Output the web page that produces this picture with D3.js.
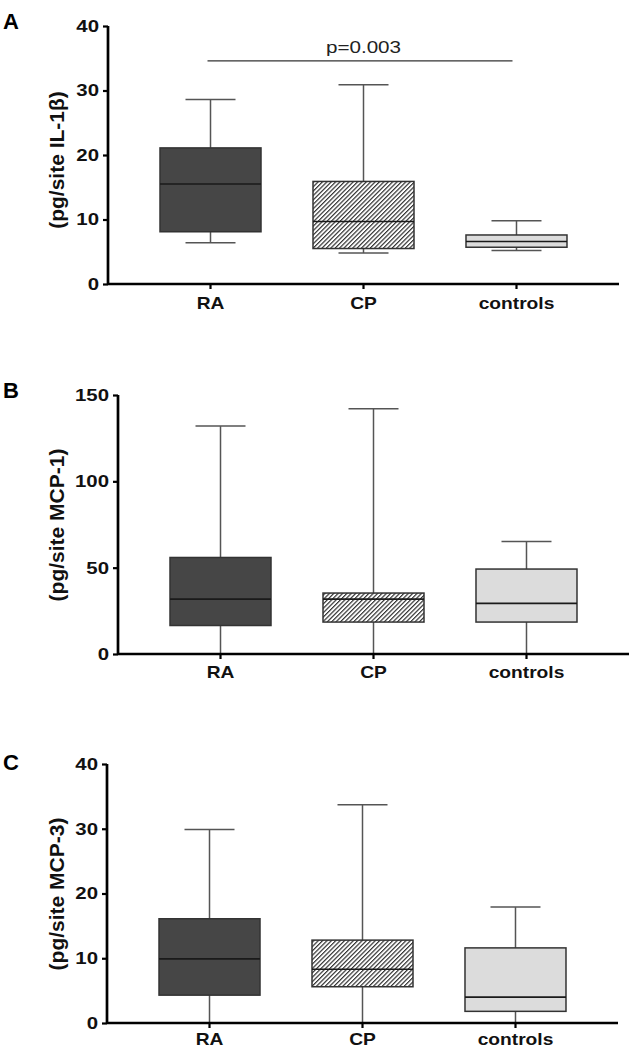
<!DOCTYPE html>
<html>
<head>
    <meta charset="utf-8">
    <title>IL-1b, MCP-1, MCP-3 box plots</title>
    <script src="https://d3js.org/d3.v7.min.js"></script>
    <style>
        body { margin: 0; background: #ffffff; }
        svg { display: block; font-family: "Liberation Sans", Arial, sans-serif; }
        .domain { stroke: #000; stroke-width: 2.7px; }
        .tick line { stroke: #000; stroke-width: 2.2px; }
    </style>
</head>
<body>
<div id="chart"></div>
<script>
    // data: [min, q1, median, q3, max] per group
    const groups = ["RA", "CP", "controls"];
    const il1bStats = [
        [6.4, 8.1, 15.5, 21.1, 28.6],
        [4.8, 5.5, 9.7, 15.9, 30.9],
        [5.2, 5.7, 6.6, 7.6, 9.8]
    ];
    const mcp1Stats = [
        [0, 16.5, 31.8, 55.9, 132],
        [0, 18.5, 31.8, 35.3, 142],
        [0, 18.5, 29.3, 49.2, 65.1]
    ];
    const mcp3Stats = [
        [0, 4.3, 9.9, 16.1, 29.9],
        [0, 5.6, 8.3, 12.8, 33.7],
        [0, 1.8, 4.0, 11.6, 17.9]
    ];
    const il1bTicks = [0, 10, 20, 30, 40];
    const mcp1Ticks = [0, 50, 100, 150];
    const mcp3Ticks = [0, 10, 20, 30, 40];
    const pValueA = "p=0.003";

    const fills = ["#464646", "url(#hatch)", "#dcdcdc"];

    const svg = d3.select("#chart").append("svg")
        .attr("width", 633)
        .attr("height", 1050);

    const pat = svg.append("defs").append("pattern")
        .attr("id", "hatch")
        .attr("patternUnits", "userSpaceOnUse")
        .attr("width", 3.1)
        .attr("height", 3.1)
        .attr("patternTransform", "rotate(45)");
    pat.append("rect").attr("width", 3.1).attr("height", 3.1).attr("fill", "#fff");
    pat.append("line")
        .attr("x1", 0.6).attr("y1", 0).attr("x2", 0.6).attr("y2", 3.1)
        .attr("stroke", "#333").attr("stroke-width", 1.2);

    function drawPanel(opt) {
        const w = 511, h = opt.zeroY - opt.topY;
        const g = svg.append("g")
            .attr("transform", "translate(" + opt.axisX + "," + opt.topY + ")");

        const x = d3.scalePoint().domain(groups).range([0, w]).padding(0.67);
        const y = d3.scaleLinear().domain([0, opt.ticks[opt.ticks.length - 1]]).range([h, 0]);

        const boxW = 101, capW = 50;

        const box = g.selectAll(".box")
            .data(opt.stats)
            .enter().append("g")
            .attr("transform", (d, i) => "translate(" + x(groups[i]) + ",0)");

        // whiskers
        box.append("line")
            .attr("x1", 0).attr("x2", 0)
            .attr("y1", d => y(d[0])).attr("y2", d => y(d[1]))
            .attr("stroke", "#555").attr("stroke-width", 1.5);
        box.append("line")
            .attr("x1", 0).attr("x2", 0)
            .attr("y1", d => y(d[3])).attr("y2", d => y(d[4]))
            .attr("stroke", "#555").attr("stroke-width", 1.5);
        box.append("line")
            .attr("x1", -capW / 2).attr("x2", capW / 2)
            .attr("y1", d => y(d[4])).attr("y2", d => y(d[4]))
            .attr("stroke", "#555").attr("stroke-width", 1.5);
        box.append("line")
            .attr("x1", -capW / 2).attr("x2", capW / 2)
            .attr("y1", d => y(d[0])).attr("y2", d => y(d[0]))
            .attr("stroke", "#555").attr("stroke-width", 1.5);

        box.append("rect")
            .attr("x", -boxW / 2)
            .attr("width", boxW)
            .attr("y", d => y(d[3]))
            .attr("height", d => y(d[1]) - y(d[3]))
            .attr("fill", (d, i) => fills[i])
            .attr("stroke", "#333")
            .attr("stroke-width", 1.5);

        box.append("line")
            .attr("x1", -boxW / 2).attr("x2", boxW / 2)
            .attr("y1", d => y(d[2])).attr("y2", d => y(d[2]))
            .attr("stroke", "#1a1a1a").attr("stroke-width", 1.6);

        // axes
        const yAx = g.append("g")
            .call(d3.axisLeft(y).tickValues(opt.ticks).tickSize(5).tickSizeOuter(0));
        yAx.selectAll("text")
            .attr("x", -7.5)
            .attr("transform", "scale(1.2,1)")
            .style("font-size", "17px")
            .style("font-weight", "bold")
            .style("fill", "#111");

        const xAx = g.append("g")
            .attr("transform", "translate(0," + h + ")")
            .call(d3.axisBottom(x).tickSize(5).tickSizeOuter(0));
        xAx.select(".domain").attr("d", "M0,0H" + w);
        xAx.selectAll("text")
            .attr("y", opt.labelY)
            .attr("transform", "scale(1.2,1)")
            .style("font-size", "16px")
            .style("font-weight", "bold")
            .style("fill", "#111");
        xAx.selectAll(".tick").attr("transform", d => "translate(" + x(d) + ",0)");

        yAx.select(".domain").attr("d", "M0," + h + "V0");
        yAx.selectAll(".tick line").attr("x2", -5);
        yAx.raise();

        // y title
        svg.append("text")
            .attr("transform", "translate(" + 64 + "," + opt.titleY + ") rotate(-90)")
            .attr("text-anchor", "middle")
            .style("font-size", "21px")
            .style("font-weight", "bold")
            .style("fill", "#111")
            .text(opt.title);

        // panel letter
        svg.append("text")
            .attr("x", 3)
            .attr("y", opt.letterY)
            .style("font-size", "22px")
            .style("font-weight", "bold")
            .style("fill", "#000")
            .text(opt.letter);

        return {g: g, x: x, y: y};
    }

    const pA = drawPanel({letter: "A", letterY: 29, axisX: 108, topY: 26, zeroY: 284, labelY: 14,
        ticks: il1bTicks, stats: il1bStats, title: "(pg/site IL-1\u03b2)", titleY: 160});
    drawPanel({letter: "B", letterY: 398, axisX: 118, topY: 395, zeroY: 654, labelY: 13,
        ticks: mcp1Ticks, stats: mcp1Stats, title: "(pg/site MCP-1)", titleY: 525});
    drawPanel({letter: "C", letterY: 770, axisX: 107, topY: 764, zeroY: 1023, labelY: 11,
        ticks: mcp3Ticks, stats: mcp3Stats, title: "(pg/site MCP-3)", titleY: 894});

    // significance bar RA vs controls
    const sigY = pA.y(34.6);
    pA.g.append("line")
        .attr("x1", pA.x("RA") - 3).attr("x2", pA.x("controls") - 4)
        .attr("y1", sigY).attr("y2", sigY)
        .attr("stroke", "#333").attr("stroke-width", 1.4);
    pA.g.append("text")
        .attr("transform", "translate(" + pA.x("CP") + "," + (sigY - 8) + ") scale(1.25,1)")
        .attr("text-anchor", "middle")
        .style("font-size", "16.5px")
        .style("fill", "#222")
        .text(pValueA);
</script>
</body>
</html>
